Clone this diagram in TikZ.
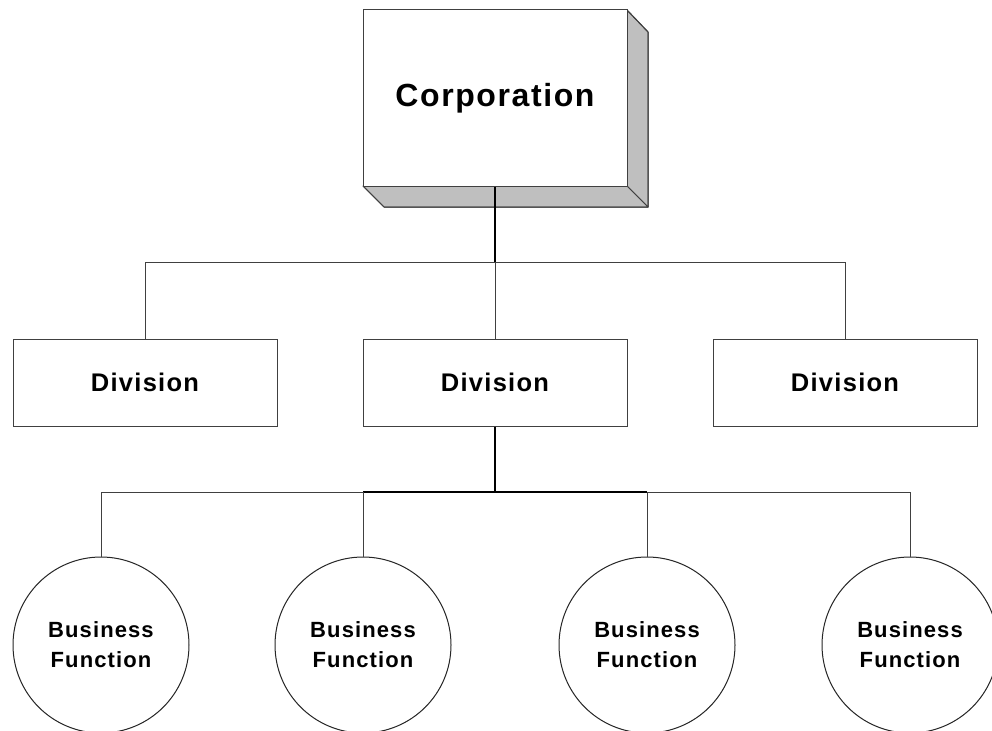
\documentclass[tikz,border=0pt]{standalone}
\usepackage{fontspec}
\setmainfont{Liberation Sans}
\newfontfamily\labfont{Liberation Sans}[LetterSpace=5]
\begin{document}
\begin{tikzpicture}[x=1pt,y=-1pt,
  thinline/.style={draw=black!75,line width=1pt},
  thickline/.style={draw=black,line width=2pt},
  corpbox/.style={draw=black!75,line width=1pt,fill=white,minimum width=264pt,minimum height=176pt,inner sep=0pt,font=\labfont\fontsize{32}{38}\selectfont\bfseries},
  divbox/.style={draw=black!75,line width=1pt,fill=white,minimum width=264pt,minimum height=87pt,inner sep=0pt,font=\labfont\fontsize{25.5}{30}\selectfont\bfseries},
  funcircle/.style={draw=black!85,line width=1pt,circle,fill=white,minimum size=176pt,inner sep=0pt,align=center,font=\labfont\fontsize{22}{30}\selectfont\bfseries},
  shadeface/.style={fill=black!25,draw=black!75,line width=1pt,line join=round}]
\useasboundingbox (0,0) rectangle (992,730);
\begin{scope}
\clip (0,0) rectangle (992,730);
% corporation extrusion
\fill[shadeface] (627,10) -- (648,32) -- (648,207) -- (627,186) -- cycle;
\fill[shadeface] (363,186) -- (627,186) -- (648,207) -- (384,207) -- cycle;
\draw[shadeface,fill=none] (627,10) -- (648,32) -- (648,207) -- (384,207) -- (363,186);
\node[corpbox] (corp) at (495,98) {\raisebox{-3pt}{Corporation}};
% divisions
\node[divbox] (d1) at (145,382.5) {Division};
\node[divbox] (d2) at (495,382.5) {Division};
\node[divbox] (d3) at (845,382.5) {Division};
% business functions
\node[funcircle] (f1) at (101,645) {Business\\Function};
\node[funcircle] (f2) at (363,645) {Business\\Function};
\node[funcircle] (f3) at (647,645) {Business\\Function};
\node[funcircle] (f4) at (910,645) {Business\\Function};
% connector coordinates
\coordinate (j1) at (495,262);
\coordinate (j1l) at (145,262);
\coordinate (j1r) at (845,262);
\coordinate (j2) at (495,492);
\coordinate (j2a) at (101,492);
\coordinate (j2b) at (363,492);
\coordinate (j2c) at (647,492);
\coordinate (j2d) at (910,492);
% top level connectors
\draw[thinline] (j1l) -- (j1r);
\draw[thinline] (j1l) -- (d1.north);
\draw[thinline] (j1) -- (d2.north);
\draw[thinline] (j1r) -- (d3.north);
\draw[thickline] (corp.south) -- (j1);
% lower connectors
\draw[thinline] (j2a) -- (j2d);
\draw[thickline] (j2b) -- (j2c);
\draw[thickline] (d2.south) -- (j2);
\draw[thinline] (j2a) -- (f1.north);
\draw[thinline] (j2b) -- (f2.north);
\draw[thinline] (j2c) -- (f3.north);
\draw[thinline] (j2d) -- (f4.north);
\end{scope}
\end{tikzpicture}
\end{document}
